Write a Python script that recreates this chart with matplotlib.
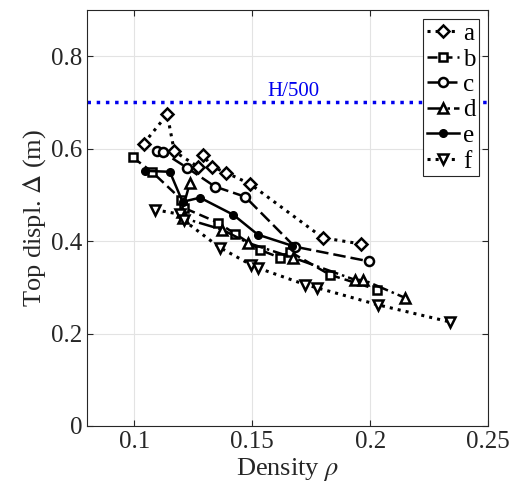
import matplotlib
matplotlib.use('Agg')
import matplotlib.pyplot as plt

plt.rcParams['font.family'] = ['Liberation Serif', 'DejaVu Serif']
plt.rcParams['mathtext.fontset'] = 'stix'

# data
a_x = [0.104, 0.114, 0.117, 0.127, 0.129, 0.133, 0.139, 0.149, 0.180, 0.196]
a_y = [0.611, 0.674, 0.594, 0.561, 0.587, 0.561, 0.548, 0.524, 0.407, 0.394]

b_x = [0.0994, 0.1075, 0.120, 0.121, 0.1355, 0.1427, 0.1533, 0.1618, 0.166, 0.183, 0.203]
b_y = [0.581, 0.550, 0.490, 0.472, 0.440, 0.416, 0.381, 0.364, 0.377, 0.327, 0.295]

c_x = [0.1096, 0.1122, 0.1223, 0.1342, 0.1470, 0.168, 0.1997]
c_y = [0.594, 0.592, 0.559, 0.518, 0.496, 0.388, 0.356]

d_x = [0.1236, 0.1202, 0.1207, 0.1372, 0.1483, 0.1674, 0.1937, 0.1971, 0.2149]
d_y = [0.526, 0.464, 0.450, 0.425, 0.396, 0.364, 0.316, 0.316, 0.277]

e_x = [0.1045, 0.1151, 0.1205, 0.1279, 0.1420, 0.1524, 0.1669]
e_y = [0.552, 0.550, 0.485, 0.494, 0.457, 0.414, 0.390]

f_x = [0.1087, 0.1195, 0.121, 0.1363, 0.1494, 0.1524, 0.1724, 0.1775, 0.2034, 0.2339]
f_y = [0.468, 0.458, 0.445, 0.386, 0.349, 0.342, 0.306, 0.299, 0.262, 0.225]

H500 = 0.7

fig = plt.figure(figsize=(5.21, 5.0), dpi=100)
ax = fig.add_axes([0.167, 0.148, 0.770, 0.832])

ax.axhline(H500, color='#0000ee', linestyle=':', linewidth=2.5, zorder=1)
ax.text(0.1673, H500 + 0.003, 'H/500', color='#0000ee', fontsize=15,
        ha='center', va='bottom')

mk = dict(markersize=6.5, markeredgewidth=1.8, markeredgecolor='k', markerfacecolor='white', color='k')
ax.plot(a_x, a_y, linestyle=':', linewidth=2.2, marker='D', label='a', **{**mk, 'markersize': 6})
ax.plot(b_x, b_y, linestyle=(0, (4, 2)), linewidth=1.8, marker='s', label='b', **{**mk, 'markersize': 6})
ax.plot(c_x, c_y, linestyle=(0, (5, 2)), linewidth=1.8, marker='o', label='c', **mk)
ax.plot(d_x, d_y, linestyle='-.', linewidth=1.8, marker='^', label='d', **{**mk, 'markersize': 7.5})
ax.plot(e_x, e_y, linestyle='-', linewidth=1.8, marker='o', color='k',
        markersize=5.5, markerfacecolor='k', markeredgecolor='k', label='e')
ax.plot(f_x, f_y, linestyle=':', linewidth=2.2, marker='v', label='f', **{**mk, 'markersize': 7.5})

ax.set_xlim(0.08, 0.25)
ax.set_ylim(0, 0.9)
ax.set_xticks([0.1, 0.15, 0.2, 0.25])
ax.set_xticklabels(['0.1', '0.15', '0.2', '0.25'])
ax.set_yticks([0, 0.2, 0.4, 0.6, 0.8])
ax.set_yticklabels(['0', '0.2', '0.4', '0.6', '0.8'])
ax.grid(True, color='#e3e3e3', linewidth=0.8)
ax.set_axisbelow(True)
ax.tick_params(direction='in', top=True, right=True, labelsize=18, colors='#262626', length=4)
for s in ax.spines.values():
    s.set_color('#262626')
    s.set_linewidth(0.8)

ax.set_xlabel(r'Density $\rho$', fontsize=19, color='#262626', labelpad=2)
ax.set_ylabel(r'Top displ. $\Delta$ (m)', fontsize=19, color='#262626', labelpad=2)

leg = ax.legend(loc='upper right', fontsize=18, handlelength=1.3, handletextpad=0.15,
                labelspacing=0.12, borderpad=0.15, borderaxespad=0.35, fancybox=False,
                framealpha=1)
leg.get_frame().set_edgecolor('#262626')
leg.get_frame().set_linewidth(0.8)

fig.savefig('out.png', dpi=100)
